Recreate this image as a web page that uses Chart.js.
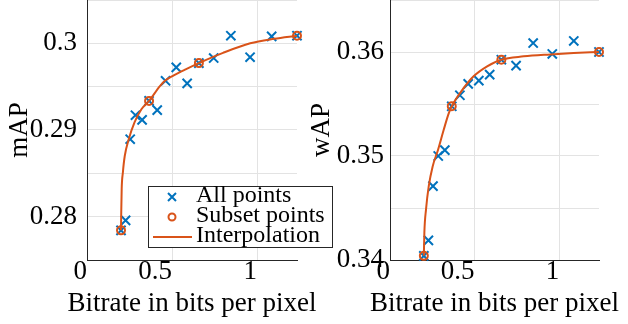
<!DOCTYPE html>
<html>
<head>
<meta charset="utf-8">
<script src="https://cdn.jsdelivr.net/npm/chart.js@4.4.0/dist/chart.umd.min.js"></script>
<style>
  body { margin: 0; background: #fff; }
  #contenitore { position: relative; width: 628px; height: 324px; overflow: hidden; }
  canvas { position: absolute; top: 0; }
</style>
</head>
<body>
<div id="contenitore">
  <canvas id="graficoMAP" width="340" height="324" style="left:0px"></canvas>
  <canvas id="graficoWAP" width="328" height="324" style="left:300px"></canvas>
</div>
<script>
// bitrate (bpp) di tutti i punti
const bitrate = [0.2, 0.227, 0.254, 0.285, 0.324, 0.365, 0.413, 0.462, 0.525, 0.589, 0.658, 0.745, 0.846, 0.959, 1.086, 1.235];
const mAP = [0.27842, 0.27957, 0.28894, 0.29171, 0.29117, 0.29336, 0.29229, 0.29568, 0.29722, 0.29538, 0.29772, 0.2983, 0.30088, 0.2984, 0.3008, 0.30088];
const wAP = [0.3404, 0.34189, 0.3471, 0.35, 0.35056, 0.35478, 0.35584, 0.35693, 0.35725, 0.35782, 0.35926, 0.35869, 0.36086, 0.35981, 0.36106, 0.36];

// indici dei punti del sottoinsieme
const subsetIdx = [0, 5, 10, 15];

// curva di interpolazione
const interpRateMAP = [0.2, 0.201, 0.204, 0.211, 0.222, 0.245, 0.28, 0.32, 0.365, 0.43, 0.46, 0.51, 0.58, 0.658, 0.8, 0.96, 1.1, 1.235];
const interpMAP = [0.27842, 0.2801, 0.2832, 0.2851, 0.287, 0.2889, 0.2909, 0.2924, 0.29336, 0.2951, 0.2957, 0.2963, 0.2970, 0.29772, 0.2989, 0.3, 0.30052, 0.30088];
const interpRateWAP = [0.2, 0.203, 0.213, 0.229, 0.252, 0.284, 0.317, 0.347, 0.365, 0.416, 0.494, 0.574, 0.656, 0.79, 0.947, 1.085, 1.235];
const interpWAP = [0.3404, 0.3426, 0.3449, 0.3471, 0.349, 0.3506, 0.3525, 0.3541, 0.35478, 0.3561, 0.35766, 0.35862, 0.35926, 0.35958, 0.35977, 0.3599, 0.36];

// etichette degli assi
const xLabels = [0, 0.5, 1];
const yLabelsMAP = [0.28, 0.29, 0.3];
const yLabelsWAP = [0.34, 0.35, 0.36];

const blu = '#0072BD';
const arancio = '#D95319';
const fontSerif = 'Liberation Serif';

function punti(xs, ys) {
  return xs.map(function(x, i) { return {x: x, y: ys[i]}; });
}

function etichetta(lista) {
  return function(v) {
    for (let i = 0; i < lista.length; i++)
      if (Math.abs(lista[i] - v) < 1e-6) return String(lista[i]);
    return '';
  };
}

// titolo asse x senza maxWidth (quello della scala viene schiacciato)
const titoloX = {
  id: 'titoloX',
  afterDraw(chart, args, opt) {
    const ctx = chart.ctx;
    const ca = chart.chartArea;
    ctx.save();
    ctx.font = '27px "' + fontSerif + '"';
    ctx.fillStyle = '#000';
    ctx.textAlign = 'center';
    ctx.textBaseline = 'middle';
    ctx.fillText(opt.text, (ca.left + ca.right) / 2, opt.y);
    ctx.restore();
  }
};

// legenda disegnata dentro il grafico
const legendaBox = {
  id: 'legendaBox',
  afterDraw(chart, args, opt) {
    if (!opt || !opt.show) return;
    const ctx = chart.ctx;
    ctx.save();
    ctx.fillStyle = '#fff';
    ctx.fillRect(opt.x, opt.y, opt.w, opt.h);
    ctx.strokeStyle = '#262626';
    ctx.lineWidth = 1;
    ctx.strokeRect(opt.x + 0.5, opt.y + 0.5, opt.w - 1, opt.h - 1);
    ctx.font = '24px "' + fontSerif + '"';
    ctx.textBaseline = 'alphabetic';
    chart.data.datasets.forEach(function(ds, i) {
      const cy = opt.y + 11 + i * 20;
      const mx = opt.x + 24;
      ctx.strokeStyle = ds.borderColor;
      ctx.lineWidth = 2;
      ctx.beginPath();
      if (ds.pointStyle == 'crossRot') {
        ctx.moveTo(mx - 4, cy - 4); ctx.lineTo(mx + 4, cy + 4);
        ctx.moveTo(mx - 4, cy + 4); ctx.lineTo(mx + 4, cy - 4);
      } else if (ds.showLine) {
        ctx.moveTo(opt.x + 5, cy); ctx.lineTo(opt.x + 44, cy);
      } else {
        ctx.arc(mx, cy, 3.5, 0, Math.PI * 2);
      }
      ctx.stroke();
      ctx.fillStyle = '#000';
      ctx.fillText(ds.label, opt.x + 48, cy + 5);
    });
    ctx.restore();
  }
};

function creaGrafico(id, valori, interpX, interpY, titoloY, yMin, yMax, yLabels, yWidth, yPad, titoloPad, padDestra, legenda) {
  const ctx = document.getElementById(id);
  const sub = subsetIdx.map(function(i) { return {x: bitrate[i], y: valori[i]}; });

  return new Chart(ctx, {
    type: 'scatter',
    data: {
      datasets: [{
        label: 'All points',
        data: punti(bitrate, valori),
        pointStyle: 'crossRot',
        pointRadius: 6.5,
        pointHoverRadius: 6.5,
        borderWidth: 2,
        pointBorderWidth: 2,
        borderColor: blu,
        backgroundColor: blu,
        clip: false,
        order: 3
      }, {
        label: 'Subset points',
        data: sub,
        pointStyle: 'circle',
        pointRadius: 4,
        pointHoverRadius: 4,
        borderWidth: 2,
        pointBorderWidth: 2,
        borderColor: arancio,
        backgroundColor: 'rgba(0,0,0,0)',
        clip: false,
        order: 2
      }, {
        label: 'Interpolation',
        data: punti(interpX, interpY),
        showLine: true,
        cubicInterpolationMode: 'monotone',
        pointRadius: 0,
        pointHoverRadius: 0,
        borderWidth: 2,
        borderColor: arancio,
        backgroundColor: arancio,
        clip: false,
        order: 1
      }]
    },
    plugins: [titoloX, legendaBox],
    options: {
      responsive: false,
      animation: false,
      devicePixelRatio: 1,
      layout: { autoPadding: false, padding: { left: 0, top: 0, right: padDestra, bottom: 0 } },
      plugins: {
        legend: { display: false },
        tooltip: { enabled: false },
        titoloX: { text: 'Bitrate in bits per pixel', y: 304 },
        legendaBox: legenda
      },
      scales: {
        x: {
          type: 'linear',
          min: 0,
          max: 1.235,
          afterFit: function(s) { s.height = 64; s.paddingLeft = 0; s.paddingRight = 0; },
          border: { color: '#262626', width: 1 },
          grid: { color: '#e3e3e3', drawTicks: false },
          ticks: {
            stepSize: 0.5,
            includeBounds: false,
            align: 'end',
            padding: -2,
            maxRotation: 0,
            autoSkip: false,
            color: '#000',
            font: { family: fontSerif, size: 27, lineHeight: 1 },
            callback: etichetta(xLabels)
          }
        },
        y: {
          type: 'linear',
          min: yMin,
          max: yMax,
          afterFit: function(s) { s.width = yWidth; s.paddingTop = 0; s.paddingBottom = 0; },
          border: { color: '#262626', width: 1 },
          grid: { color: '#e3e3e3', drawTicks: false },
          ticks: {
            stepSize: 0.005,
            padding: yPad,
            autoSkip: false,
            color: '#000',
            font: { family: fontSerif, size: 27 },
            callback: etichetta(yLabels)
          },
          title: {
            display: true,
            text: titoloY,
            color: '#000',
            font: { family: fontSerif, size: 27 },
            padding: { top: titoloPad, bottom: 0 }
          }
        }
      }
    }
  });
}

let graficoMAP = creaGrafico('graficoMAP', mAP, interpRateMAP, interpMAP, 'mAP', 0.275, 0.305, yLabelsMAP, 87, 10, 4, 43,
  { show: true, x: 148, y: 186, w: 185, h: 62 });
let graficoWAP = creaGrafico('graficoWAP', wAP, interpRateWAP, interpWAP, 'wAP', 0.34, 0.365, yLabelsWAP, 90, 6, 6, 29, null);
</script>
</body>
</html>
